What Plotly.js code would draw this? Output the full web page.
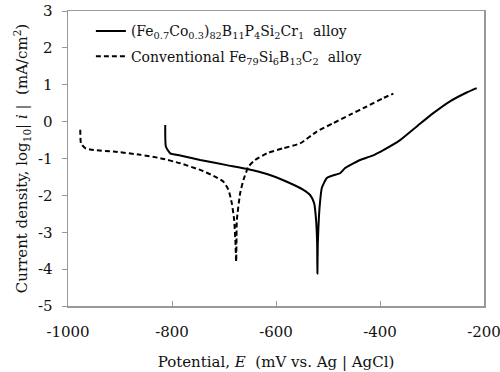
<!DOCTYPE html>
<html>
<head>
<meta charset="utf-8">
<script src="https://cdn.plot.ly/plotly-3.0.1.min.js"></script>
<style>html,body{margin:0;padding:0;background:#fff;}#chart{width:500px;height:372px;}</style>
</head>
<body>
<div id="chart"></div>
<script>
// Fe-Co based alloy (solid)
const solidE = [-813, -811.7, -803.4, -784.2, -745.8, -694.5, -653.5, -617.6, -579.2, -547.3, -534.4, -526.7, -522.9, -520.9, -520.4,
  -519.6, -517.5, -515.5, -511.9, -502.3, -492.7, -476.7, -467.1, -457.5, -438.3, -415.8, -393.5, -361.4, -329.3, -297.5, -265.4, -233.3, -214.1];
const solidLogI = [-0.09, -0.68, -0.86, -0.92, -1.04, -1.18, -1.29, -1.42, -1.63, -1.85, -1.99, -2.21, -2.67, -3.30, -4.12,
  -3.30, -2.60, -2.21, -1.80, -1.53, -1.47, -1.40, -1.26, -1.18, -1.04, -0.93, -0.77, -0.50, -0.13, 0.23, 0.55, 0.79, 0.91];
// Conventional Fe79Si6B13C2 alloy (dashed)
const dashedE = [-976.4, -975, -966.8, -950.8, -912.4, -861.1, -822.6, -784.2, -745.8, -720.2, -701, -691.4, -684.9, -680.4, -677.9, -676.6,
  -676.0, -675.3, -668.9, -662.6, -652.9, -640.1, -617.6, -585.7, -553.6, -521.5, -489.6, -457.5, -425.4, -393.5, -374.3];
const dashedLogI = [-0.22, -0.59, -0.72, -0.77, -0.81, -0.90, -0.99, -1.13, -1.31, -1.47, -1.63, -1.85, -2.22, -2.67, -3.30, -3.80,
  -3.30, -2.67, -1.94, -1.58, -1.22, -1.04, -0.86, -0.72, -0.59, -0.27, -0.04, 0.19, 0.41, 0.64, 0.76];

const xTicks = [-1000, -800, -600, -400, -200];
const xTickText = ['-1000', '-800', '-600', '-400', '-200'];
const yTicks = [-5, -4, -3, -2, -1, 0, 1, 2, 3];
const yTickText = ['-5', '-4', '-3', '-2', '-1', '0', '1', '2', '3'];

const serif = "'DejaVu Serif', 'Liberation Serif', serif";

const traces = [
  {x: solidE, y: solidLogI, mode: 'lines', type: 'scatter', legendgroup: 'a',
   name: '(Fe<sub>0.7</sub>Co<sub>0.3</sub>)<sub>82</sub>B<sub>11</sub>P<sub>4</sub>Si<sub>2</sub>Cr<sub>1</sub>  alloy',
   line: {color: '#000', width: 2, shape: 'spline', smoothing: 0.5}},
  {x: dashedE, y: dashedLogI, mode: 'lines', type: 'scatter', legendgroup: 'b',
   name: 'Conventional Fe<sub>79</sub>Si<sub>6</sub>B<sub>13</sub>C<sub>2</sub>  alloy',
   line: {color: '#000', width: 2, dash: '5px,3px', shape: 'spline', smoothing: 0.5}}
];

const layout = {
  width: 500, height: 372,
  margin: {l: 68, r: 16, t: 11, b: 66},
  paper_bgcolor: '#fff', plot_bgcolor: '#fff',
  font: {family: serif, size: 14, color: '#111'},
  showlegend: true,
  legend: {x: 0.055, y: 0.985, xanchor: 'left', yanchor: 'top', bgcolor: 'rgba(0,0,0,0)',
           font: {family: serif, size: 14, color: '#111'}, tracegroupgap: 4},
  xaxis: {range: [-1000, -200], tickvals: xTicks, ticktext: xTickText,
          ticks: 'inside', ticklen: 5, tickcolor: '#999', tickwidth: 1,
          showline: true, linecolor: '#999', linewidth: 1.5, mirror: true,
          showgrid: false, zeroline: false, ticklabelstandoff: 11, ticklabeloverflow: 'allow',
          tickfont: {family: serif, size: 15, color: '#111'},
          title: {text: 'Potential, <i>E</i>  (mV vs. Ag | AgCl)', font: {family: serif, size: 15, color: '#111'}, standoff: 17}},
  yaxis: {range: [-5, 3], tickvals: yTicks, ticktext: yTickText,
          ticks: 'outside', ticklen: 5, tickcolor: '#999', tickwidth: 1,
          showline: true, linecolor: '#999', linewidth: 1.5, mirror: true,
          showgrid: false, zeroline: false, ticklabelstandoff: 6,
          tickfont: {family: serif, size: 15, color: '#111'},
          title: {text: 'Current density, log<sub>10</sub>| <i>i</i> |  (mA/cm<sup>2</sup>)', font: {family: serif, size: 15, color: '#111'}, standoff: 6}}
};

Plotly.newPlot('chart', traces, layout, {displayModeBar: false, staticPlot: true});
</script>
</body>
</html>
